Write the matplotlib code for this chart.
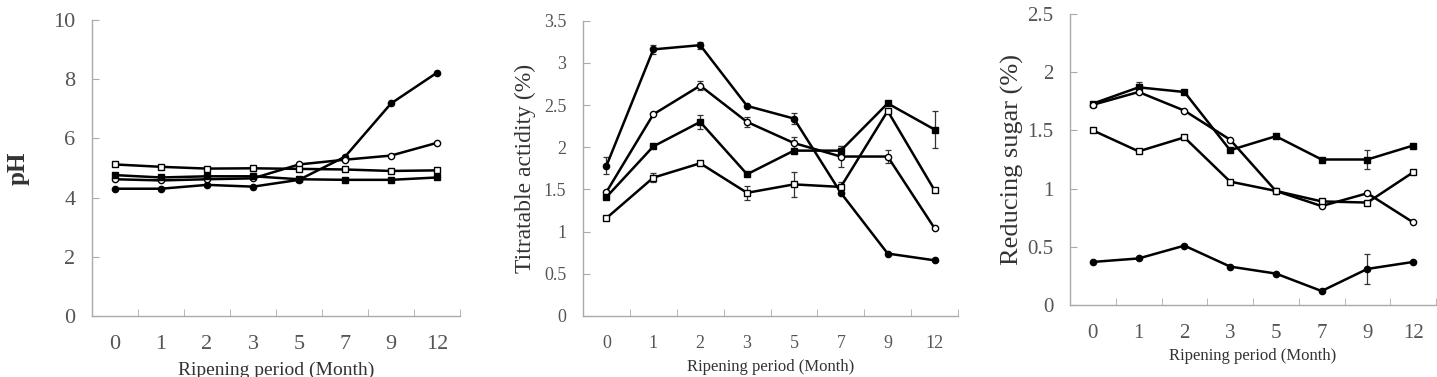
import numpy as np
import matplotlib
matplotlib.use("Agg")
import matplotlib.pyplot as plt

months = ["0", "1", "2", "3", "5", "7", "9", "12"]

# pH
ph_fc = [4.30, 4.30, 4.43, 4.37, 4.60, 5.38, 7.18, 8.22]
ph_oc = [4.62, 4.58, 4.62, 4.65, 5.12, 5.28, 5.42, 5.85]
ph_fs = [4.76, 4.68, 4.72, 4.72, 4.62, 4.60, 4.60, 4.68]
ph_os = [5.12, 5.04, 4.98, 4.99, 4.97, 4.95, 4.90, 4.92]

# titratable acidity (%)
ta_fc = [1.78, 3.16, 3.21, 2.49, 2.34, 1.46, 0.74, 0.66]
ta_fc_err = [0.10, 0.05, 0.04, 0.0, 0.07, 0.0, 0.0, 0.0]
ta_oc = [1.47, 2.39, 2.73, 2.30, 2.05, 1.89, 1.89, 1.04]
ta_oc_err = [0.0, 0.0, 0.05, 0.06, 0.07, 0.12, 0.08, 0.0]
ta_fs = [1.41, 2.01, 2.30, 1.68, 1.96, 1.96, 2.52, 2.21]
ta_fs_err = [0.0, 0.0, 0.08, 0.0, 0.0, 0.05, 0.0, 0.22]
ta_os = [1.16, 1.64, 1.81, 1.46, 1.56, 1.53, 2.43, 1.49]
ta_os_err = [0.0, 0.05, 0.0, 0.08, 0.15, 0.06, 0.0, 0.0]

# reducing sugar (%)
rs_fs = [1.73, 1.87, 1.83, 1.33, 1.45, 1.25, 1.25, 1.37]
rs_fs_err = [0.0, 0.05, 0.0, 0.0, 0.0, 0.0, 0.08, 0.0]
rs_oc = [1.72, 1.83, 1.67, 1.42, 0.98, 0.85, 0.96, 0.71]
rs_os = [1.50, 1.32, 1.44, 1.06, 0.98, 0.89, 0.88, 1.14]
rs_fc = [0.37, 0.40, 0.51, 0.33, 0.27, 0.12, 0.31, 0.37]
rs_fc_err = [0.0, 0.0, 0.0, 0.0, 0.0, 0.0, 0.13, 0.0]

txt = "#555555"
spine = "#aaaaaa"
font = "Liberation Serif"

fig = plt.figure(figsize=(14.37, 3.77), dpi=100)
ax1 = fig.add_axes([92/1437, 1-316/377, 368/1437, 296/377])
ax2 = fig.add_axes([583/1437, 1-316/377, 375/1437, 295.3/377])
ax3 = fig.add_axes([1070/1437, 1-305/377, 366/1437, 291/377])

x = np.arange(len(months))

def draw(ax, y, marker, filled, err=None):
    fc = "black" if filled else "white"
    if err is not None:
        ax.errorbar(x, y, yerr=err, fmt="none", ecolor="#333333",
                    elinewidth=0.9, capsize=2, capthick=0.9, zorder=2)
    ax.plot(x, y, color="black", lw=1.8, marker=marker, markersize=4.5,
            markerfacecolor=fc, markeredgecolor="black", markeredgewidth=1, zorder=3)

def style(ax, ymax, step, fmt, tsize, xsize, ylabel, ysize, ybold, xlab_pad):
    ax.set_xlim(-0.5, len(months) - 0.5)
    ax.set_ylim(0, ymax)
    ticks = np.arange(0, ymax + step / 2, step)
    ax.set_yticks(ticks)
    ax.set_yticklabels([fmt(t) for t in ticks], fontsize=tsize, color=txt, family=font)
    ax.set_xticks(x)
    ax.set_xticklabels(months, fontsize=tsize, color=txt, family=font)
    ax.set_xticks(np.arange(-0.5, len(months)), minor=True)
    ax.tick_params(axis="x", which="major", length=0, pad=14)
    ax.tick_params(axis="x", which="minor", direction="in", length=5, color=spine)
    ax.tick_params(axis="y", direction="in", length=5, color=spine, pad=12)
    for s in ["top", "right"]:
        ax.spines[s].set_visible(False)
    for s in ["left", "bottom"]:
        ax.spines[s].set_color(spine)
        ax.spines[s].set_linewidth(1)
    ax.set_xlabel("Ripening period (Month)", fontsize=xsize, family=font,
                  color="#333333", labelpad=xlab_pad)
    ax.set_ylabel(ylabel, fontsize=ysize, family=font, color="#333333",
                  fontweight="bold" if ybold else "normal")

def num(t):
    s = ("%.1f" % t).rstrip("0").rstrip(".")
    return s

draw(ax1, ph_fc, "o", True)
draw(ax1, ph_oc, "o", False)
draw(ax1, ph_fs, "s", True)
draw(ax1, ph_os, "s", False)
style(ax1, 10, 2, num, 16, 14, "pH", 18, True, 5)
ax1.yaxis.set_label_coords(-0.17, 0.5)

draw(ax2, ta_fc, "o", True, ta_fc_err)
draw(ax2, ta_oc, "o", False, ta_oc_err)
draw(ax2, ta_fs, "s", True, ta_fs_err)
draw(ax2, ta_os, "s", False, ta_os_err)
style(ax2, 3.5, 0.5, num, 13, 12, "Titratable actidity (%)", 17, False, 5)
ax2.yaxis.set_label_coords(-0.125, 0.5)

draw(ax3, rs_fs, "s", True, rs_fs_err)
draw(ax3, rs_oc, "o", False)
draw(ax3, rs_os, "s", False)
draw(ax3, rs_fc, "o", True, rs_fc_err)
style(ax3, 2.5, 0.5, num, 15, 12, "Reducing sugar (%)", 19, False, 3)
ax3.yaxis.set_label_coords(-0.125, 0.5)

fig.savefig("out.png", dpi=100)
